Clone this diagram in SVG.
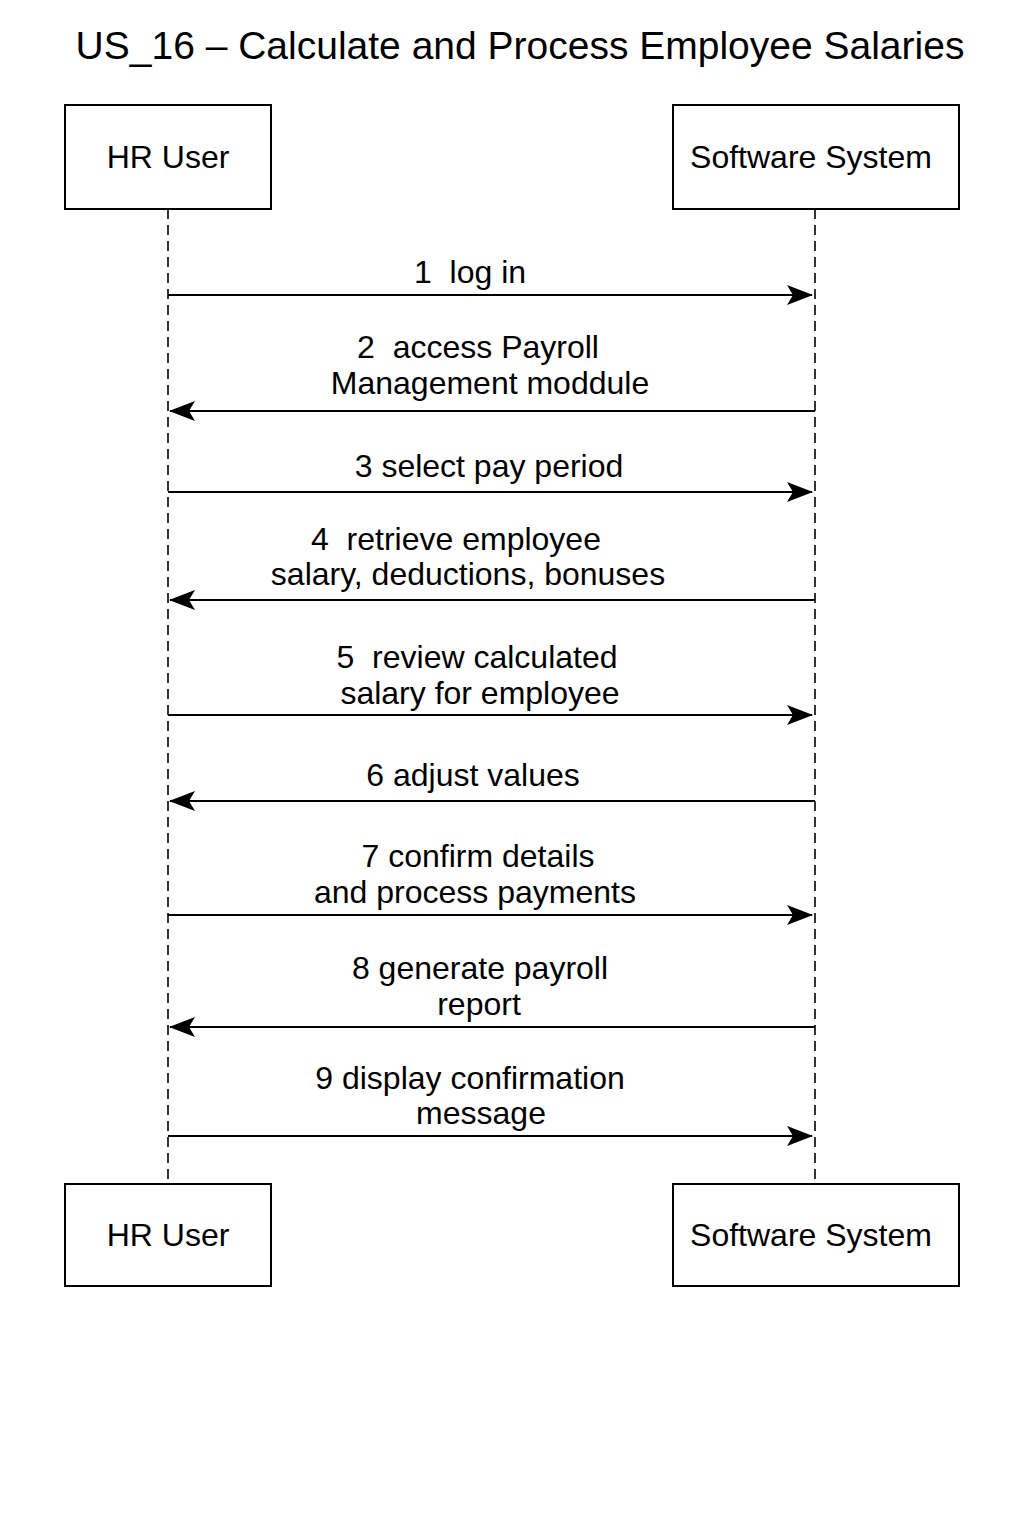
<svg xmlns="http://www.w3.org/2000/svg" width="1024" height="1536" viewBox="0 0 1024 1536">
<style>
.box{fill:#fff;stroke:#000;stroke-width:2}
.life{stroke:#000;stroke-width:1.6;stroke-dasharray:10 6;fill:none}
.msg{stroke:#000;stroke-width:2;fill:none}
text{font-family:"Liberation Sans",Arial,sans-serif;fill:#000}
.lbl{font-size:32px;text-anchor:middle}
.ttl{font-size:39px;text-anchor:middle}
</style>
<defs>
<marker id="ah" viewBox="0 0 26 20" refX="25" refY="10" markerWidth="26" markerHeight="20" markerUnits="userSpaceOnUse" orient="auto">
<path d="M0,0 L26,10 L0,20 L6,10 Z" fill="#000"/>
</marker>
</defs>
<rect width="1024" height="1536" fill="#fff"/>
<text class="ttl" x="520" y="59">US_16 – Calculate and Process Employee Salaries</text>
<g id="lifelines">
<line class="life" x1="168" y1="209" x2="168" y2="1184"/>
<line class="life" x1="815" y1="209" x2="815" y2="1184"/>
</g>
<g id="hr-top"><rect class="box" x="65" y="105" width="206" height="104"/><text class="lbl" x="168" y="168">HR User</text></g>
<g id="sys-top"><rect class="box" x="673" y="105" width="286" height="104"/><text class="lbl" x="811" y="168">Software System</text></g>
<g id="hr-bottom"><rect class="box" x="65" y="1184" width="206" height="102"/><text class="lbl" x="168" y="1246">HR User</text></g>
<g id="sys-bottom"><rect class="box" x="673" y="1184" width="286" height="102"/><text class="lbl" x="811" y="1246">Software System</text></g>
<g id="connectors">
<line class="msg" x1="168" y1="295" x2="812" y2="295" marker-end="url(#ah)"/>
<line class="msg" x1="815" y1="411" x2="170" y2="411" marker-end="url(#ah)"/>
<line class="msg" x1="168" y1="492" x2="812" y2="492" marker-end="url(#ah)"/>
<line class="msg" x1="815" y1="600" x2="170" y2="600" marker-end="url(#ah)"/>
<line class="msg" x1="168" y1="715" x2="812" y2="715" marker-end="url(#ah)"/>
<line class="msg" x1="815" y1="801" x2="170" y2="801" marker-end="url(#ah)"/>
<line class="msg" x1="168" y1="915" x2="812" y2="915" marker-end="url(#ah)"/>
<line class="msg" x1="815" y1="1027" x2="170" y2="1027" marker-end="url(#ah)"/>
<line class="msg" x1="168" y1="1136" x2="812" y2="1136" marker-end="url(#ah)"/>
</g>
<g id="labels">
<text class="lbl" x="470" y="283" xml:space="preserve">1  log in</text>
<text class="lbl" x="478" y="358" xml:space="preserve">2  access Payroll</text>
<text class="lbl" x="490" y="394">Management moddule</text>
<text class="lbl" x="489" y="477">3 select pay period</text>
<text class="lbl" x="456" y="550" xml:space="preserve">4  retrieve employee</text>
<text class="lbl" x="468" y="585">salary, deductions, bonuses</text>
<text class="lbl" x="477" y="668" xml:space="preserve">5  review calculated</text>
<text class="lbl" x="480" y="704">salary for employee</text>
<text class="lbl" x="473" y="786">6 adjust values</text>
<text class="lbl" x="478" y="867">7 confirm details</text>
<text class="lbl" x="475" y="903">and process payments</text>
<text class="lbl" x="480" y="979">8 generate payroll</text>
<text class="lbl" x="479" y="1015">report</text>
<text class="lbl" x="470" y="1089">9 display confirmation</text>
<text class="lbl" x="481" y="1124">message</text>
</g>
</svg>
